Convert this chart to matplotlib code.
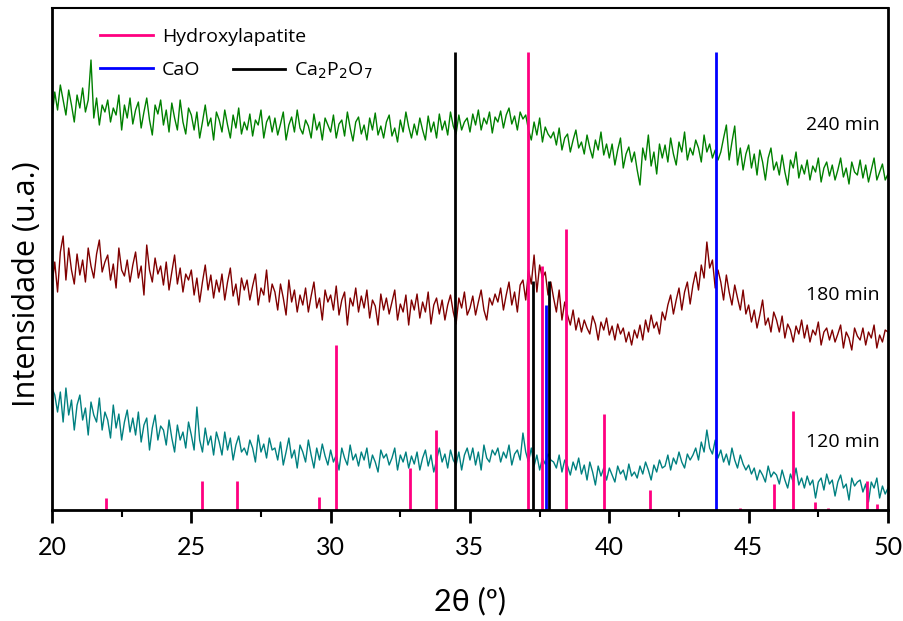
import numpy as np
import matplotlib
matplotlib.use("Agg")
import matplotlib.pyplot as plt
from matplotlib.ticker import MultipleLocator
from matplotlib.lines import Line2D

plt.rcParams['font.family'] = ['Lato', 'DejaVu Sans']
TXT_FONT = ['Open Sans', 'DejaVu Sans']

# 2theta grid, 0.1 deg steps
two_theta = np.round(np.arange(20.0, 50.05, 0.1), 2)

# 240 min (already stacked, arbitrary units)
i_240 = [
    392, 418, 400, 425, 410, 395, 420, 405, 388, 415,
    402, 422, 398, 410, 450, 392, 412, 385, 405, 398,
    410, 388, 402, 395, 415, 380, 405, 392, 412, 386,
    400, 408, 382, 398, 412, 390, 375, 405, 396, 410,
    385, 400, 378, 407, 392, 380, 410, 388, 376, 402,
    395, 380, 398, 372, 388, 405, 384, 392, 370, 398,
    390, 378, 400, 385, 372, 395, 382, 402, 376, 388,
    380, 396, 374, 390, 385, 400, 372, 388, 394, 378,
    392, 375, 386, 398, 370, 385, 393, 378, 400, 382,
    376, 390, 384, 372, 396, 380, 388, 370, 392, 385,
    378, 395, 372, 386, 390, 374, 398, 382, 369, 388,
    393, 376, 385, 370, 392, 380, 397, 375, 384, 372,
    388, 395, 374, 382, 368, 390, 378, 398, 383, 372,
    386, 375, 392, 380, 370, 394, 378, 388, 372, 396,
    380, 389, 375, 398, 384, 376, 395, 380, 388, 392,
    378, 396, 385, 400, 380, 392, 386, 398, 377, 393,
    388, 399, 382, 395, 402, 386, 394, 380, 398, 391,
    395, 380, 370, 388, 375, 392, 368, 383, 376, 372,
    378, 365, 382, 360, 372, 376, 358, 370, 380, 362,
    368, 356, 375, 362, 352, 370, 360, 378, 355, 366,
    352, 366, 345, 360, 372, 342, 356, 363, 348, 358,
    340, 325, 362, 350, 375, 344, 358, 336, 366, 352,
    365, 348, 372, 356, 345, 368, 358, 378, 350, 362,
    355, 370, 362, 348, 375, 358, 366, 352, 360, 350,
    358, 372, 385, 350, 368, 384, 345, 362, 340, 356,
    365, 342, 356, 335, 360, 348, 330, 352, 362, 340,
    348, 335, 355, 338, 325, 350, 342, 358, 332, 345,
    336, 350, 330, 344, 338, 352, 328, 342, 348, 334,
    345, 330, 340, 352, 333, 342, 326, 348, 338, 335,
    350, 332, 345, 328, 340, 352, 330, 338, 346, 330,
    336,
]

# 180 min
i_180 = [
    225, 248, 218, 258, 274, 230, 262, 240, 226, 256,
    235, 250, 228, 262, 244, 232, 256, 270, 238, 248,
    255, 230, 246, 222, 262, 240, 234, 250, 228, 245,
    258, 232, 244, 215, 265, 240, 228, 252, 236, 244,
    225, 248, 220, 238, 255, 226, 242, 218, 236, 230,
    240, 215, 232, 208, 228, 245, 220, 235, 212, 230,
    218, 236, 210, 228, 242, 214, 226, 205, 232, 220,
    230, 210, 224, 236, 205, 222, 215, 240, 208, 226,
    218, 200, 226, 212, 195, 230, 208, 220, 198, 215,
    205, 222, 198, 214, 228, 202, 212, 190, 220, 208,
    215, 200, 224, 195, 210, 218, 185, 212, 204, 222,
    198, 214, 202, 220, 192, 210, 204, 185, 216, 200,
    212, 196, 208, 220, 190, 206, 198, 215, 185, 210,
    200, 216, 192, 208, 198, 218, 186, 205, 212, 196,
    210, 190, 205, 215, 198, 186, 212, 202, 218, 195,
    202, 214, 195, 208, 220, 200, 190, 212, 205, 216,
    208, 222, 200, 215, 228, 205, 218, 198, 225, 230,
    210, 240, 226, 255, 218, 245, 232, 238, 215, 228,
    212, 198, 220, 190, 208, 195, 185, 200, 180, 192,
    178, 190, 182, 176, 194, 186, 170, 188, 180, 192,
    175, 184, 170, 186, 176, 182, 168, 178, 165, 180,
    172, 185, 170, 190, 178, 195, 182, 188, 176, 198,
    190, 205, 215, 196, 210, 222, 200, 218, 228, 206,
    225, 238, 220, 245, 232, 268, 242, 250, 222, 240,
    228, 210, 235, 218, 205, 225, 212, 200, 220, 196,
    205, 188, 200, 182, 195, 210, 185, 192, 178, 198,
    190, 178, 194, 172, 186, 180, 168, 184, 176, 190,
    172, 185, 168, 180, 175, 188, 165, 178, 182, 170,
    180, 168, 176, 185, 162, 178, 172, 160, 182, 174,
    170, 182, 165, 178, 172, 185, 162, 175, 168, 180,
    178,
]

# 120 min
i_120 = [
    122, 115, 98, 118, 88, 122, 95, 110, 80, 105,
    115, 90, 102, 75, 108, 95, 88, 112, 80, 98,
    90, 72, 105, 82, 96, 70, 88, 100, 78, 92,
    75, 98, 68, 85, 92, 60, 82, 95, 70, 84,
    80, 65, 90, 72, 58, 85, 70, 78, 62, 88,
    75, 60, 103, 70, 58, 82, 65, 74, 55, 78,
    68, 55, 78, 60, 72, 50, 65, 74, 58, 62,
    55, 70, 62, 48, 75, 58, 66, 52, 72, 60,
    62, 50, 68, 45, 58, 72, 52, 60, 42, 65,
    58, 48, 70, 55, 42, 62, 50, 66, 54, 45,
    60, 48, 55, 40, 62, 52, 45, 65, 50, 56,
    44, 58, 50, 62, 42, 55, 48, 38, 60, 52,
    56, 45, 52, 62, 40, 55, 48, 58, 42, 54,
    46, 58, 40, 52, 60, 44, 55, 38, 50, 62,
    48, 56, 42, 60, 50, 45, 58, 40, 55, 62,
    50, 62, 45, 58, 40, 65, 52, 48, 60, 55,
    62, 48, 58, 52, 65, 45, 56, 60, 50, 77,
    58, 48, 62, 44, 55, 40, 52, 46, 56, 50,
    48, 42, 55, 38, 50, 44, 35, 48, 40, 52,
    36, 45, 30, 48, 38, 25, 44, 34, 42, 30,
    42, 35, 28, 44, 36, 40, 30, 46, 34, 38,
    32, 44, 36, 48, 40, 30, 45, 38, 50, 42,
    44, 55, 40, 52, 46, 58, 48, 42, 56, 50,
    55, 62, 50, 68, 58, 80, 62, 56, 70, 52,
    60, 48, 56, 45, 62, 50, 42, 55, 46, 40,
    45, 36, 42, 30, 40, 35, 28, 44, 33, 38,
    35, 26, 40, 30, 22, 36, 28, 42, 25, 32,
    22, 34, 25, 30, 12, 28, 32, 20, 36, 26,
    30, 14, 28, 35, 22, 26, 10, 32, 24, 28,
    30, 18, 26, 8, 28, 22, 32, 12, 24, 16,
    22,
]

# reference patterns (position, relative height)
hap_pos = [21.94, 25.38, 26.64, 29.58, 30.19, 32.85, 33.78, 37.08, 37.58, 38.45,
           39.81, 41.46, 44.68, 45.90, 46.60, 47.38, 47.85, 49.25, 49.62]
hap_h = [12, 29, 29, 13, 165, 42, 80, 458, 244, 281,
         96, 20, 2, 26, 99, 8, 2, 29, 6]
cao_pos = [37.73, 43.82]
cao_h = [205, 458]
cpp_pos = [34.46, 37.26, 37.84]
cpp_h = [458, 229, 229]

fig = plt.figure(figsize=(9.04, 6.21), dpi=100)
ax = fig.add_axes([0.0575, 0.1787, 0.9248, 0.8084])

ax.plot(two_theta, i_120, color='#008080', lw=1.0)
ax.plot(two_theta, i_180, color='#800000', lw=1.0)
ax.plot(two_theta, i_240, color='#008000', lw=1.0)

ax.vlines(hap_pos, 0, hap_h, color='#FF0080', lw=2)
ax.vlines(cpp_pos, 0, cpp_h, color='black', lw=2)
ax.vlines(cao_pos, 0, cao_h, color='#0000FF', lw=2)

for y, lab in [(385, '240 min'), (215, '180 min'), (68, '120 min')]:
    ax.text(49.7, y, lab, ha='right', va='center', fontsize=14, family=TXT_FONT)

h1 = [Line2D([], [], color='#FF0080', lw=2), Line2D([], [], color='#0000FF', lw=2)]
leg1 = ax.legend(h1, ['Hydroxylapatite', 'CaO'], loc='upper left',
                 bbox_to_anchor=(0.037, 0.995), frameon=False,
                 prop={'family': TXT_FONT, 'size': 14},
                 handlelength=2.7, handletextpad=0.45, labelspacing=0.75)
ax.add_artist(leg1)
h2 = [Line2D([], [], color='black', lw=2)]
ax.legend(h2, ['Ca$_2$P$_2$O$_7$'], loc='upper left',
          bbox_to_anchor=(0.195, 0.93), frameon=False,
          prop={'family': TXT_FONT, 'size': 14},
          handlelength=2.7, handletextpad=0.45)

ax.set_xlim(20, 50)
ax.set_ylim(0, 502)
ax.xaxis.set_major_locator(MultipleLocator(5))
ax.xaxis.set_minor_locator(MultipleLocator(2.5))
ax.tick_params(axis='x', which='major', direction='out', length=9, width=2,
               labelsize=18, pad=10)
ax.tick_params(axis='x', which='minor', direction='out', length=5, width=1.5)
ax.set_yticks([])
for s in ax.spines.values():
    s.set_linewidth(2)
ax.spines['top'].set_linewidth(1.5)

ax.set_xlabel('2θ (º)', fontsize=22, labelpad=20)
ax.set_ylabel('Intensidade (u.a.)', fontsize=22, family=TXT_FONT)
ax.yaxis.set_label_coords(-0.012, 0.45)

fig.savefig('out.png', dpi=100)
